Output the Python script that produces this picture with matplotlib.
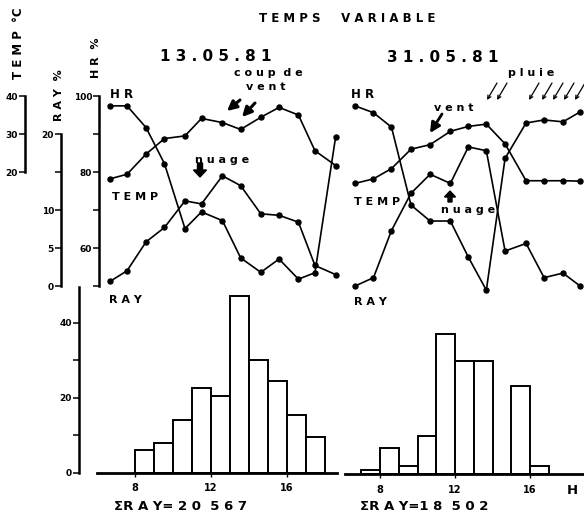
import matplotlib
matplotlib.use('Agg')
import matplotlib.pyplot as plt
from matplotlib.patches import FancyArrow

W, H = 584, 514
plt.rcParams['font.family'] = ['DejaVu Sans']

# ---------------- data ----------------
hours_left = [6.68, 7.58, 8.58, 9.55, 10.63, 11.5, 12.6, 13.56, 14.62, 15.58, 16.6, 17.47, 18.56]
hr_left = [97.4, 97.4, 91.7, 82.2, 65.1, 69.5, 67.2, 57.4, 53.6, 57.1, 51.8, 53.5, 89.3]
temp_left = [18.2, 19.4, 24.7, 28.8, 29.5, 34.1, 33.0, 31.2, 34.4, 37.0, 35.0, 25.6, 21.7]
ray_left = [0.6, 2.0, 5.8, 7.7, 11.2, 10.8, 14.5, 13.2, 9.5, 9.3, 8.4, 2.7, 1.5]

hours_right = [6.67, 7.65, 8.61, 9.65, 10.67, 11.75, 12.71, 13.67, 14.67, 15.79, 16.75, 17.76, 18.67]
hr_right = [97.4, 95.6, 91.8, 71.3, 67.1, 67.1, 57.6, 48.9, 83.6, 92.9, 93.7, 93.2, 95.8]
temp_right = [17.0, 18.2, 20.9, 26.0, 27.2, 30.7, 32.0, 32.6, 27.4, 17.7, 17.7, 17.7, 17.6]
ray_right = [0.0, 1.1, 7.3, 12.2, 14.7, 13.5, 18.3, 17.8, 4.6, 5.6, 1.1, 1.7, 0.0]

hist_left_hours = [8, 9, 10, 11, 12, 13, 14, 15, 16, 17]
hist_left_vals = [6, 8, 14, 22.5, 20.5, 47, 30, 24.5, 15.5, 9.5]
hist_right_hours = [7, 8, 9, 10, 11, 12, 13, 14, 15, 16]
hist_right_vals = [1, 7, 2, 10, 37, 30, 30, 0, 23.3, 2]

title = "T E M P S     V A R I A B L E"
date_left = "1 3 . 0 5 . 8 1"
date_right = "3 1 . 0 5 . 8 1"
sum_left = "ΣR A Y= 2 0  5 6 7"
sum_right = "ΣR A Y=1 8  5 0 2"

# ---------------- helpers ----------------
fig = plt.figure(figsize=(W / 100, H / 100), dpi=100)


def rect(x0, y0, x1, y1):
    return [x0 / W, 1 - y1 / H, (x1 - x0) / W, (y1 - y0) / H]


def fx(x):
    return x / W


def fy(y):
    return 1 - y / H


def ftext(x, y, s, size=8, ha='center', va='center', rot=0, weight='bold'):
    fig.text(fx(x), fy(y), s, fontsize=size, ha=ha, va=va, rotation=rot,
             fontweight=weight, color='black')


def arrow(x0, y0, x1, y1, lw=0.9, ms=8, style='-|>'):
    fig.add_artist(matplotlib.patches.FancyArrowPatch(
        (fx(x0), fy(y0)), (fx(x1), fy(y1)), transform=fig.transFigure,
        arrowstyle=style, mutation_scale=ms, lw=lw, color='black',
        shrinkA=0, shrinkB=0))


LW = 1.2
MS = 3.6
line_kw = dict(color='black', lw=LW, marker='o', ms=MS, clip_on=False)


def clean(ax):
    for s in ax.spines.values():
        s.set_visible(False)
    ax.set_xticks([])
    ax.set_yticks([])
    ax.patch.set_visible(False)


def make_upper(r, xlim, show_axes):
    ax = fig.add_axes(r)
    axT = ax.twinx()
    axR = ax.twinx()
    for a in (ax, axT, axR):
        clean(a)
        a.set_xlim(*xlim)
    ax.set_ylim(50, 100)
    axT.set_ylim(-10, 40)
    axR.set_ylim(0, 25)
    if show_axes:
        tick_kw = dict(direction='out', length=4, width=1.1, pad=1,
                       labelsize=6.5)
        # HR axis
        ax.spines['left'].set_visible(True)
        ax.spines['left'].set_bounds(50, 100)
        ax.spines['left'].set_linewidth(1.8)
        ax.set_yticks([50, 60, 70, 80, 90, 100])
        ax.set_yticklabels(['', '60', '', '80', '', '100'])
        ax.tick_params(axis='y', **tick_kw)
        # RAY axis
        axR.spines['left'].set_visible(True)
        axR.spines['left'].set_position(('axes', -0.16))
        axR.spines['left'].set_bounds(0, 20)
        axR.spines['left'].set_linewidth(1.8)
        axR.yaxis.set_ticks_position('left')
        axR.set_yticks([0, 5, 10, 15, 20])
        axR.set_yticklabels(['0', '5', '10', '', '20'])
        axR.tick_params(axis='y', **tick_kw)
        # TEMP axis
        axT.spines['left'].set_visible(True)
        axT.spines['left'].set_position(('axes', -0.311))
        axT.spines['left'].set_bounds(20, 40)
        axT.spines['left'].set_linewidth(1.8)
        axT.yaxis.set_ticks_position('left')
        axT.set_yticks([20, 30, 40])
        axT.set_yticklabels(['20', '30', '40'])
        axT.tick_params(axis='y', **tick_kw)
        for a in (ax, axT, axR):
            for t in a.get_yticklabels():
                t.set_fontweight('bold')
    return ax, axT, axR


# ---------------- upper panels ----------------
axL, axLT, axLR = make_upper(rect(99, 96, 337, 286), (6.105, 18.63), True)
axL.plot(hours_left, hr_left, **line_kw)
axLT.plot(hours_left, temp_left, **line_kw)
axLR.plot(hours_left, ray_left, **line_kw)

axRt, axRT, axRR = make_upper(rect(345, 96, 584, 286), (6.13, 18.88), False)
axRt.plot(hours_right, hr_right, **line_kw)
axRT.plot(hours_right, temp_right, **line_kw)
axRR.plot(hours_right, ray_right, **line_kw)

# ---------------- histograms ----------------
def make_hist(r, xlim, hours, vals, show_y, left_bound, label_y_pad):
    ax = fig.add_axes(r)
    ax.patch.set_visible(False)
    ax.bar(hours, vals, width=1, align='edge', color='white',
           edgecolor='black', linewidth=1.4, zorder=2)
    ax.set_xlim(*xlim)
    ax.set_ylim(0, 49.5)
    for s in ('top', 'right'):
        ax.spines[s].set_visible(False)
    ax.spines['bottom'].set_bounds(left_bound, xlim[1])
    ax.spines['bottom'].set_linewidth(2.0)
    ax.spines['bottom'].set_zorder(3)
    ax.set_xticks([8, 12, 16])
    ax.set_xticklabels(['8', '12', '16'])
    ax.tick_params(axis='x', direction='out', length=3, width=1, pad=label_y_pad,
                   labelsize=7)
    for t in ax.get_xticklabels():
        t.set_fontweight('bold')
    if show_y:
        ax.spines['left'].set_linewidth(1.8)
        ax.set_yticks([0, 10, 20, 30, 40])
        ax.set_yticklabels(['0', '', '20', '', '40'])
        ax.tick_params(axis='y', direction='out', length=4, width=1.1, pad=1,
                       labelsize=6.5)
        for t in ax.get_yticklabels():
            t.set_fontweight('bold')
    else:
        ax.spines['left'].set_visible(False)
        ax.set_yticks([])
    return ax


make_hist(rect(79, 287, 337, 473), (5.05, 18.63), hist_left_hours,
          hist_left_vals, True, 6.0, 4)
make_hist(rect(345, 287, 584, 474), (6.13, 18.88), hist_right_hours,
          hist_right_vals, False, 6.13, 5)

# ---------------- text ----------------
ftext(347, 19, title, size=8.5)
ftext(216, 56, date_left, size=11)
ftext(443, 57, date_right, size=11)

ftext(18, 43, "T E M P  °C", size=8.5, rot=90)
ftext(59, 95, "R A Y  %", size=8, rot=90)
ftext(96, 58, "H R  %", size=8, rot=90)

ftext(122, 95, "H R", size=8.5)
ftext(135, 197, "T E M P", size=8)
ftext(125, 300, "R A Y", size=8)
ftext(363, 95, "H R", size=8.5)
ftext(377, 202, "T E M P", size=8)
ftext(370, 302, "R A Y", size=8)

ftext(268, 73, "c o u p  d e", size=8)
ftext(266, 87, "v e n t", size=8)
ftext(222, 160, "n u a g e", size=8)
ftext(454, 108, "v e n t", size=8)
ftext(468, 210, "n u a g e", size=8)
ftext(531, 73, "p l u i e", size=8)

ftext(572, 490, "H", size=9.5)
ftext(181, 506, sum_left, size=9.5)
ftext(424, 506, sum_right, size=9.5)

# ---------------- arrows ----------------
# coup de vent
arrow(240, 100, 227, 111, lw=2.2, ms=14)
arrow(255, 103, 242, 117, lw=2.2, ms=14)
# vent (right)
arrow(442, 114, 430, 133, lw=2.0, ms=15)
# nuage (left, pointing down)
fig.add_artist(FancyArrow(fx(200), fy(163), 0, -(14 / H), width=5 / W,
                          head_width=13 / W, head_length=7 / H,
                          length_includes_head=True, color='black',
                          transform=fig.transFigure))
# nuage (right, pointing up)
fig.add_artist(FancyArrow(fx(450), fy(202), 0, (11 / H), width=4 / W,
                          head_width=11 / W, head_length=6 / H,
                          length_includes_head=True, color='black',
                          transform=fig.transFigure))
# pluie (rain arrows)
for x0 in [497, 507, 539, 552, 563, 574, 585]:
    arrow(x0, 83, x0 - 10, 100, lw=0.9, ms=6, style='->')

fig.savefig('out.png', dpi=100)
